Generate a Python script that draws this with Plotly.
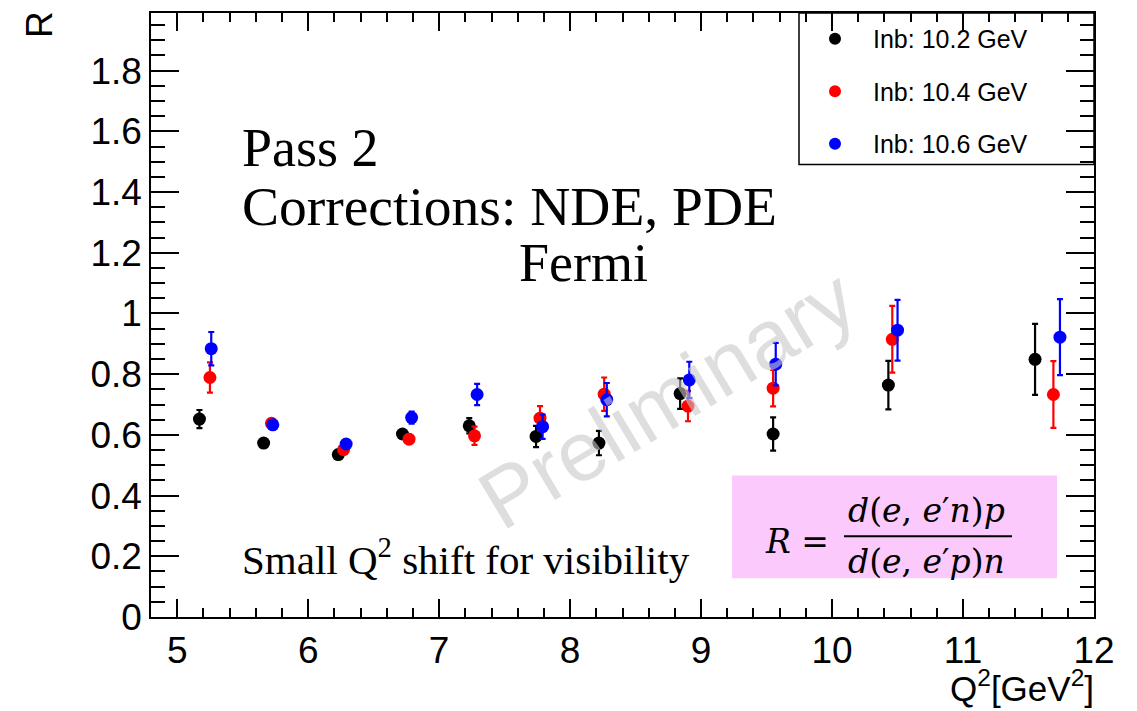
import plotly.graph_objects as go

# ---------------- data ----------------
series_names = ["Inb: 10.2 GeV", "Inb: 10.4 GeV", "Inb: 10.6 GeV"]
series_colors = ["#000000", "#ff0000", "#0000ff"]

q2_102 = [5.17, 5.66, 6.23, 6.72, 7.23, 7.74, 8.22, 8.84, 9.55, 10.43, 11.55]
r_102 = [0.652, 0.573, 0.535, 0.603, 0.630, 0.595, 0.573, 0.736, 0.603, 0.764, 0.849]
e_102 = [0.030, 0.012, 0.010, 0.012, 0.025, 0.035, 0.040, 0.050, 0.055, 0.080, 0.117]

q2_104 = [5.25, 5.72, 6.27, 6.77, 7.27, 7.77, 8.26, 8.90, 9.55, 10.46, 11.69]
r_104 = [0.789, 0.638, 0.551, 0.586, 0.597, 0.655, 0.734, 0.695, 0.754, 0.915, 0.733]
e_104 = [0.050, 0.010, 0.012, 0.015, 0.030, 0.040, 0.055, 0.050, 0.060, 0.110, 0.110]

q2_106 = [5.26, 5.73, 6.29, 6.79, 7.29, 7.79, 8.28, 8.91, 9.57, 10.50, 11.74]
r_106 = [0.884, 0.633, 0.570, 0.657, 0.733, 0.627, 0.716, 0.781, 0.833, 0.945, 0.922]
e_106 = [0.055, 0.010, 0.012, 0.020, 0.035, 0.040, 0.055, 0.060, 0.070, 0.100, 0.125]

xs = [q2_102, q2_104, q2_106]
ys = [r_102, r_104, r_106]
es = [e_102, e_104, e_106]

# ---------------- layout geometry ----------------
FIG_W, FIG_H = 1137, 711
L, R_, T, B = 151, 43, 11, 94
W = FIG_W - L - R_
H = FIG_H - T - B


def px(x):
    return (x - L) / W


def py(y):
    return 1 - (y - T) / H


fig = go.Figure()
for name, col, x, y, e in zip(series_names, series_colors, xs, ys, es):
    fig.add_trace(go.Scatter(
        x=x, y=y, mode="markers", name=name, legendgroup=name,
        marker=dict(color=col, size=13, symbol="circle"),
        error_y=dict(type="data", array=e, visible=True, color=col,
                     thickness=2.2, width=3),
    ))

sans = "Liberation Sans, Arial, Helvetica, sans-serif"
serif = "Liberation Serif, Times New Roman, serif"

fig.update_layout(
    width=FIG_W, height=FIG_H,
    margin=dict(l=L, r=R_, t=T, b=B, pad=0),
    paper_bgcolor="white", plot_bgcolor="white",
    showlegend=True,
    legend=dict(
        x=px(797), y=py(14), xanchor="left", yanchor="top",
        xref="paper", yref="paper",
        font=dict(family=sans, size=25, color="black"),
        bgcolor="rgba(0,0,0,0)", borderwidth=0,
        tracegroupgap=17, itemsizing="constant", itemwidth=66,
    ),
    xaxis=dict(
        range=[4.8, 12], dtick=1, tick0=5,
        showgrid=False, zeroline=False,
        showline=True, linecolor="black", linewidth=1.5, mirror="ticks",
        ticks="inside", ticklen=18, tickwidth=1.5, tickcolor="black",
        minor=dict(dtick=0.2, ticks="inside", ticklen=9, tickwidth=1.5,
                   tickcolor="black", showgrid=False),
        tickfont=dict(family=sans, size=37, color="black"),
    ),
    yaxis=dict(
        range=[0, 1.99], dtick=0.2, tick0=0,
        showgrid=False, zeroline=False,
        showline=True, linecolor="black", linewidth=1.5, mirror="ticks",
        ticks="inside", ticklen=28, tickwidth=1.5, tickcolor="black",
        minor=dict(dtick=0.05, ticks="inside", ticklen=14, tickwidth=1.5,
                   tickcolor="black", showgrid=False),
        tickfont=dict(family=sans, size=37, color="black"),
    ),
)

shapes = [
    # pink formula box
    dict(type="rect", xref="paper", yref="paper",
         x0=px(732), x1=px(1057), y0=py(578), y1=py(475),
         fillcolor="#fbc9fb", line=dict(width=0), layer="below"),
    # fraction bar
    dict(type="line", xref="paper", yref="paper",
         x0=px(844), x1=px(1012), y0=py(536), y1=py(536),
         line=dict(color="black", width=2)),
    # legend box
    dict(type="rect", xref="paper", yref="paper",
         x0=px(799), x1=px(1094), y0=py(163), y1=py(11),
         fillcolor="white", line=dict(color="black", width=1.5), layer="below"),
]
fig.update_layout(shapes=shapes)

ann = []


def add(text, x, y, size, family, xanchor="left", yanchor="middle",
        color="black", angle=0):
    ann.append(dict(text=text, x=px(x), y=py(y), xref="paper", yref="paper",
                    xanchor=xanchor, yanchor=yanchor, showarrow=False,
                    textangle=angle,
                    font=dict(family=family, size=size, color=color)))


# watermark
add("Preliminary", 667, 398, 84, sans, xanchor="center", color="rgba(200,200,200,0.6)", angle=-31)
# text block
add("Pass 2", 240, 146, 54, serif)
add("Corrections: NDE, PDE", 240, 205, 55.5, serif)
add("Fermi", 583, 262, 54, serif, xanchor="center")
add("Small Q<sup>2</sup> shift for visibility", 240, 557, 41, serif)
# formula
mfont = "DejaVu Serif, serif"
add("<i>R</i> =", 831, 541, 33, mfont, xanchor="right")
add("<i>d</i>(<i>e</i>, <i>e</i>′<i>n</i>)<i>p</i>", 926, 510, 33, mfont, xanchor="center")
add("<i>d</i>(<i>e</i>, <i>e</i>′<i>p</i>)<i>n</i>", 926, 561, 33, mfont, xanchor="center")
# axis titles
add("R", 40, 23, 37, sans, xanchor="center", angle=-90)
add("Q<sup>2</sup>[GeV<sup>2</sup>]", 1096, 686, 35, sans, xanchor="right")

fig.update_layout(annotations=ann)

fig.write_html("out.html")
